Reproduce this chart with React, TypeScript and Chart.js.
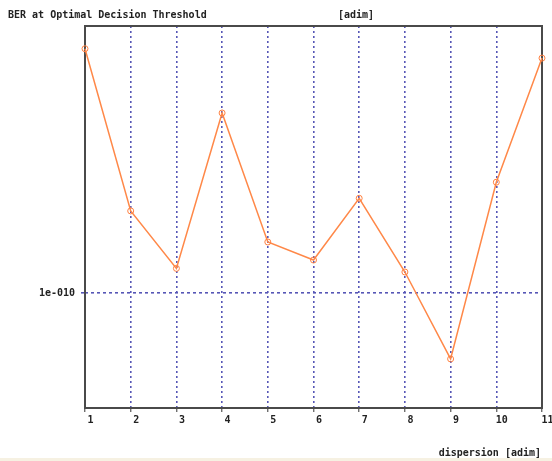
import React, { useEffect, useRef } from "react";
import { Chart, registerables } from "chart.js";

Chart.register(...registerables);

const dispersion = [1, 2, 3, 4, 5, 6, 7, 8, 9, 10, 11];
const berValues = [
  4.36e-10, 1.64e-10, 1.16e-10, 2.96e-10, 1.36e-10, 1.22e-10, 1.77e-10,
  1.135e-10, 6.72e-11, 1.95e-10, 4.12e-10,
];
const yTickValues = [1e-10];
const yTickLabels = ["1e-010"];
const titleText = "BER at Optimal Decision Threshold";
const yUnitText = "[adim]";
const xTitleText = "dispersion [adim]";

const FONT = "'DejaVu Sans Mono', 'Liberation Mono', monospace";
const GRID = "#5656b6";

export default function App() {
  const ref = useRef<HTMLCanvasElement | null>(null);

  useEffect(() => {
    if (!ref.current) return;
    const decor = {
      id: "decor",
      beforeDatasetsDraw(chart: any) {
        const { ctx, chartArea } = chart;
        ctx.save();
        ctx.strokeStyle = "#4a4a4a";
        ctx.lineWidth = 2;
        ctx.strokeRect(
          chartArea.left,
          chartArea.top,
          chartArea.right - chartArea.left,
          chartArea.bottom - chartArea.top
        );
        ctx.restore();
      },
      afterDraw(chart: any) {
        const { ctx, chartArea } = chart;
        const xs = chart.scales.x;
        ctx.save();
        ctx.fillStyle = "#222";
        ctx.font = `bold 10px ${FONT}`;
        ctx.textBaseline = "middle";
        ctx.textAlign = "center";
        dispersion.forEach((v) => {
          ctx.fillText(String(v), xs.getPixelForValue(v) + 5.5, chartArea.bottom + 12);
        });
        ctx.textAlign = "left";
        ctx.fillText(titleText, 8, 15);
        ctx.fillText(yUnitText, 338, 15);
        ctx.textAlign = "right";
        ctx.fillText(xTitleText, 541, 453);
        ctx.restore();
      },
    };

    const chart = new Chart(ref.current, {
      type: "line",
      data: {
        datasets: [
          {
            data: dispersion.map((x, i) => ({ x, y: berValues[i] })),
            borderColor: "#ff8848",
            borderWidth: 1.5,
            pointRadius: 3,
            pointBorderWidth: 1,
            pointBorderColor: "#ff8040",
            pointBackgroundColor: "rgba(255,255,255,0)",
            tension: 0,
            clip: false as any,
          },
        ],
      },
      options: {
        responsive: false,
        animation: false,
        layout: { padding: { top: 26, left: 0, right: 10, bottom: 0 } },
        plugins: {
          legend: { display: false },
          tooltip: { enabled: false },
        },
        scales: {
          x: {
            type: "linear",
            min: 1,
            max: 11,
            afterFit: (s: any) => {
              s.height = 53;
              s.paddingRight = 0;
              s.paddingLeft = 0;
            },
            afterBuildTicks: (s: any) => {
              s.ticks = dispersion.map((v) => ({ value: v }));
            },
            border: { display: false, dash: [2, 3] },
            grid: {
              color: GRID,
              lineWidth: 1.6,
              tickLength: 4,
              tickColor: "#333",
              tickBorderDash: [],
              tickWidth: 1,
            } as any,
            ticks: {
              display: false,
              autoSkip: false,
            },
          },
          y: {
            type: "logarithmic",
            min: 5e-11,
            max: 5e-10,
            afterFit: (s: any) => {
              s.width = 85;
            },
            afterBuildTicks: (s: any) => {
              s.ticks = yTickValues.map((v) => ({ value: v }));
            },
            border: { display: false, dash: [3, 3] },
            grid: {
              color: GRID,
              lineWidth: 1.6,
              tickLength: 4,
            },
            ticks: {
              padding: 6,
              color: "#222",
              font: { family: FONT, size: 10, weight: "bold" },
              callback: (v: any) => {
                const i = yTickValues.indexOf(Number(v));
                return i >= 0 ? yTickLabels[i] : "";
              },
            },
          },
        },
      },
      plugins: [decor],
    });
    return () => chart.destroy();
  }, []);

  return (
    <div
      style={{
        position: "fixed",
        left: 0,
        top: 0,
        width: 552,
        height: 461,
        background: "#fff",
      }}
    >
      <canvas ref={ref} width={552} height={461} style={{ display: "block" }} />
      <div
        style={{
          position: "absolute",
          left: 0,
          top: 458,
          width: 552,
          height: 3,
          background: "#f6f1e2",
        }}
      />
    </div>
  );
}
